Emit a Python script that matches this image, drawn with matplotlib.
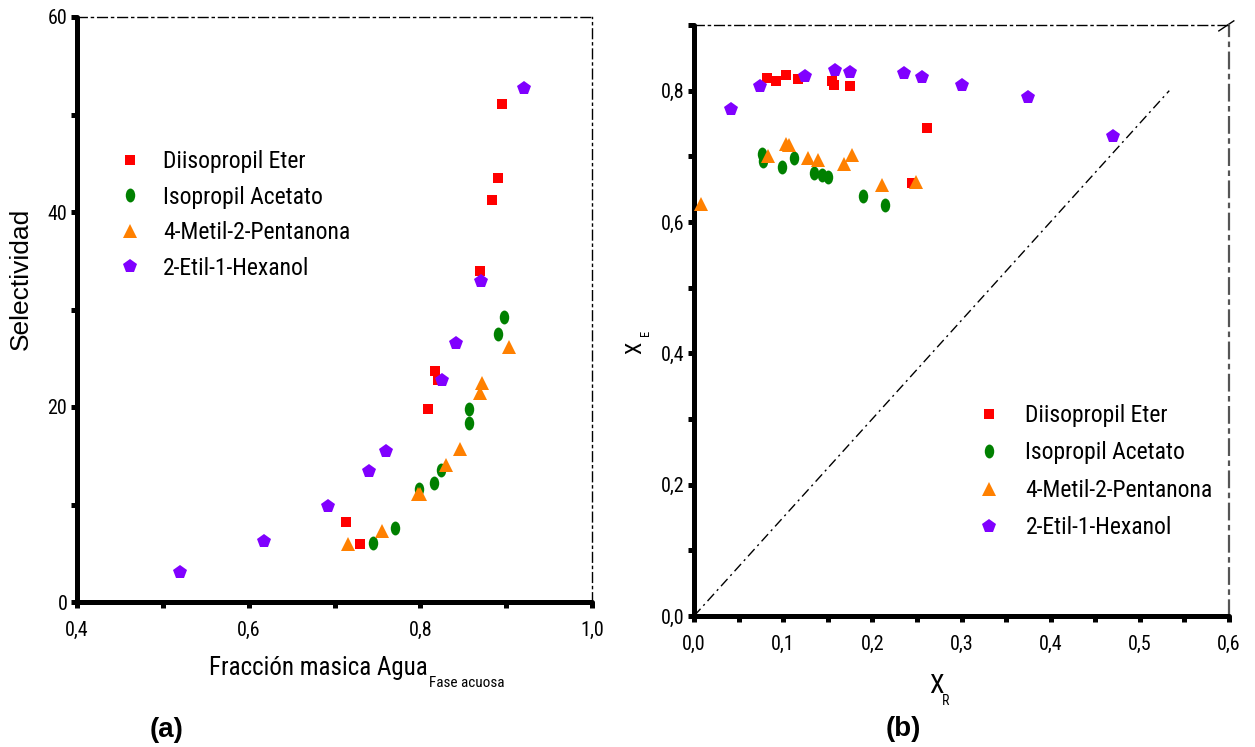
import matplotlib
matplotlib.use('Agg')
import matplotlib.pyplot as plt
from matplotlib import font_manager as fm
from matplotlib.path import Path
from matplotlib.transforms import Affine2D

# ---------------- data ----------------
series_names = ['Diisopropil Eter', 'Isopropil Acetato', '4-Metil-2-Pentanona', '2-Etil-1-Hexanol']
series_colors = ['#FF0000', '#008000', '#FF8000', '#8000FF']

# Panel (a): Selectividad vs fraccion masica de agua (fase acuosa)
a_dipe_x = [0.713, 0.730, 0.809, 0.817, 0.820, 0.870, 0.884, 0.891, 0.895]
a_dipe_y = [8.2, 6.0, 19.8, 23.7, 22.8, 33.9, 41.2, 43.5, 51.1]
a_ipac_x = [0.745, 0.770, 0.799, 0.816, 0.824, 0.857, 0.857, 0.890, 0.897]
a_ipac_y = [6.1, 7.6, 11.6, 12.2, 13.5, 19.8, 18.4, 27.5, 29.2]
a_mibk_x = [0.716, 0.755, 0.797, 0.800, 0.830, 0.846, 0.870, 0.872, 0.903]
a_mibk_y = [6.0, 7.3, 11.1, 11.1, 14.1, 15.7, 21.4, 22.5, 26.2]
a_eh_x = [0.520, 0.618, 0.693, 0.740, 0.760, 0.825, 0.842, 0.871, 0.921]
a_eh_y = [3.1, 6.3, 9.8, 13.4, 15.5, 22.8, 26.6, 32.9, 52.7]

# Panel (b): X_E vs X_R
b_dipe_x = [0.082, 0.092, 0.103, 0.117, 0.155, 0.157, 0.175, 0.244, 0.261]
b_dipe_y = [0.819, 0.815, 0.824, 0.818, 0.814, 0.808, 0.807, 0.659, 0.743]
b_ipac_x = [0.076, 0.077, 0.099, 0.112, 0.135, 0.144, 0.150, 0.190, 0.214]
b_ipac_y = [0.703, 0.693, 0.683, 0.697, 0.675, 0.671, 0.669, 0.640, 0.626]
b_mibk_x = [0.008, 0.083, 0.103, 0.107, 0.128, 0.139, 0.168, 0.177, 0.211, 0.249]
b_mibk_y = [0.628, 0.700, 0.719, 0.717, 0.698, 0.694, 0.689, 0.702, 0.657, 0.661]
b_eh_x = [0.041, 0.074, 0.124, 0.158, 0.175, 0.235, 0.256, 0.301, 0.375, 0.470]
b_eh_y = [0.772, 0.807, 0.822, 0.832, 0.829, 0.827, 0.821, 0.808, 0.791, 0.731]

# Reference line in panel (b)
ref_x = [0.0, 0.533]
ref_y = [0.0, 0.800]

# Ticks
a_xticks = [0.4, 0.6, 0.8, 1.0]
a_xticklabels = ['0,4', '0,6', '0,8', '1,0']
a_xminor = [0.5, 0.7, 0.9]
a_yticks = [0, 20, 40, 60]
a_yticklabels = ['0', '20', '40', '60']
a_yminor = [10, 30, 50]

b_xticks = [0.0, 0.1, 0.2, 0.3, 0.4, 0.5, 0.6]
b_xticklabels = ['0,0', '0,1', '0,2', '0,3', '0,4', '0,5', '0,6']
b_xminor = [0.05, 0.15, 0.25, 0.35, 0.45, 0.55]
b_yticks = [0.0, 0.2, 0.4, 0.6, 0.8]
b_yticklabels = ['0,0', '0,2', '0,4', '0,6', '0,8']
b_yminor = [0.1, 0.3, 0.5, 0.7, 0.9]

# ---------------- fonts ----------------
avail = {f.name for f in fm.fontManager.ttflist}
narrow = next((n for n in ['Liberation Sans Narrow', 'Roboto Condensed', 'Open Sans Condensed',
                           'DejaVu Sans Condensed'] if n in avail), 'Liberation Sans')
regular = 'Liberation Sans' if 'Liberation Sans' in avail else 'DejaVu Sans'
is_narrow = narrow != 'Liberation Sans'
k = 1.0 if is_narrow else 0.85  # shrink size if no narrow face

plt.rcParams['font.family'] = [narrow, 'DejaVu Sans']

# ---------------- markers ----------------
ellipse = Path.unit_circle().transformed(Affine2D().scale(0.68, 1.0))
markers = ['s', ellipse, '^', 'p']
msizes = [7.5, 10, 10, 10]

fig = plt.figure(figsize=(12.55, 7.47), dpi=100)

W, H = 1255.0, 747.0
ax_a = fig.add_axes([77 / W, 1 - 602 / H, (592 - 77) / W, (602 - 17) / H])
ax_b = fig.add_axes([694 / W, 1 - 616 / H, (1229 - 694) / W, (616 - 25) / H])

dash = (0, (7, 3, 1.5, 3))


def style_axes(ax, xlim, ylim, xt, xtl, xm, yt, ytl, ym, right_color):
    ax.set_xlim(*xlim)
    ax.set_ylim(*ylim)
    ax.set_xticks(xt, xtl)
    ax.set_xticks(xm, minor=True)
    ax.set_yticks(yt, ytl)
    ax.set_yticks(ym, minor=True)
    for s in ['left', 'bottom']:
        ax.spines[s].set_linewidth(3.6)
        ax.spines[s].set_capstyle('round')
    ax.spines['top'].set_linewidth(1.0)
    ax.spines['top'].set_linestyle(dash)
    ax.spines['right'].set_linewidth(1.0 if right_color == 'black' else 1.6)
    ax.spines['right'].set_linestyle(dash)
    ax.spines['right'].set_edgecolor(right_color)
    ax.tick_params(which='both', direction='out', length=4.5, width=3.6, color='black')
    ax.tick_params(axis='x', which='both', labelsize=14.5 * k, pad=9)
    ax.tick_params(axis='y', which='both', labelsize=14.5 * k, pad=2.5)
    ax.set_facecolor('white')


style_axes(ax_a, (0.4, 1.0), (0, 60), a_xticks, a_xticklabels, a_xminor,
           a_yticks, a_yticklabels, a_yminor, 'black')
style_axes(ax_b, (0.0, 0.6), (0.0, 0.9), b_xticks, b_xticklabels, b_xminor,
           b_yticks, b_yticklabels, b_yminor, '#555555')

a_data = [(a_dipe_x, a_dipe_y), (a_ipac_x, a_ipac_y), (a_mibk_x, a_mibk_y), (a_eh_x, a_eh_y)]
b_data = [(b_dipe_x, b_dipe_y), (b_ipac_x, b_ipac_y), (b_mibk_x, b_mibk_y), (b_eh_x, b_eh_y)]

for ax, data in [(ax_a, a_data), (ax_b, b_data)]:
    for (xs, ys), name, c, m, ms in zip(data, series_names, series_colors, markers, msizes):
        ax.plot(xs, ys, linestyle='none', marker=m, markersize=ms, color=c,
                markeredgewidth=0, label=name, clip_on=False, zorder=3)

ax_b.plot(ref_x, ref_y, color='black', linewidth=1.0, linestyle=dash, zorder=2)
ax_b.plot([0.981, 1.009], [0.990, 1.007], transform=ax_b.transAxes, color='black',
          linewidth=1.0, clip_on=False)

leg_fs = 17.0 * k
common = dict(frameon=False, fontsize=leg_fs, handlelength=1.0, borderaxespad=0,
              borderpad=0, markerscale=1.0, loc='upper left')
ax_a.legend(bbox_to_anchor=((118.5 - 77) / 515.0, (602 - 150) / 585.0),
            handletextpad=0.9, labelspacing=0.53, **common)
ax_b.legend(bbox_to_anchor=((977.5 - 694) / 535.0, (616 - 404) / 591.0),
            handletextpad=1.03, labelspacing=0.61, **common)

# axis labels
fig.text(21 / W, 1 - 279 / H, 'Selectividad', rotation=90, ha='center', va='center',
         fontsize=19, family=[regular])
xl_main = fig.text(209 / W, 1 - 675 / H, 'Fracción masica Agua', ha='left', va='baseline',
                   fontsize=18 * k)

fig.text(636 / W, 1 - 348 / H, 'X', rotation=90, ha='center', va='center', fontsize=16 * k)
fig.text(645 / W, 1 - 333 / H, 'E', rotation=90, ha='center', va='center', fontsize=9 * k)
fig.text(936 / W, 1 - 686 / H, 'X', ha='center', va='center', fontsize=19 * k)
fig.text(946 / W, 1 - 701 / H, 'R', ha='center', va='center', fontsize=10 * k)

fig.text(167 / W, 1 - 730 / H, '(a)', ha='center', va='center', fontsize=20,
         fontweight='bold', family=[regular])
fig.text(903 / W, 1 - 729 / H, '(b)', ha='center', va='center', fontsize=20,
         fontweight='bold', family=[regular])

# subscript placed right after the main x-label text
fig.canvas.draw()
bb = xl_main.get_window_extent(renderer=fig.canvas.get_renderer())
fig.text((bb.x1 + 1) / W, 1 - 687 / H, 'Fase acuosa', ha='left', va='baseline', fontsize=11 * k)

fig.savefig('out.png', dpi=100, facecolor='white')
